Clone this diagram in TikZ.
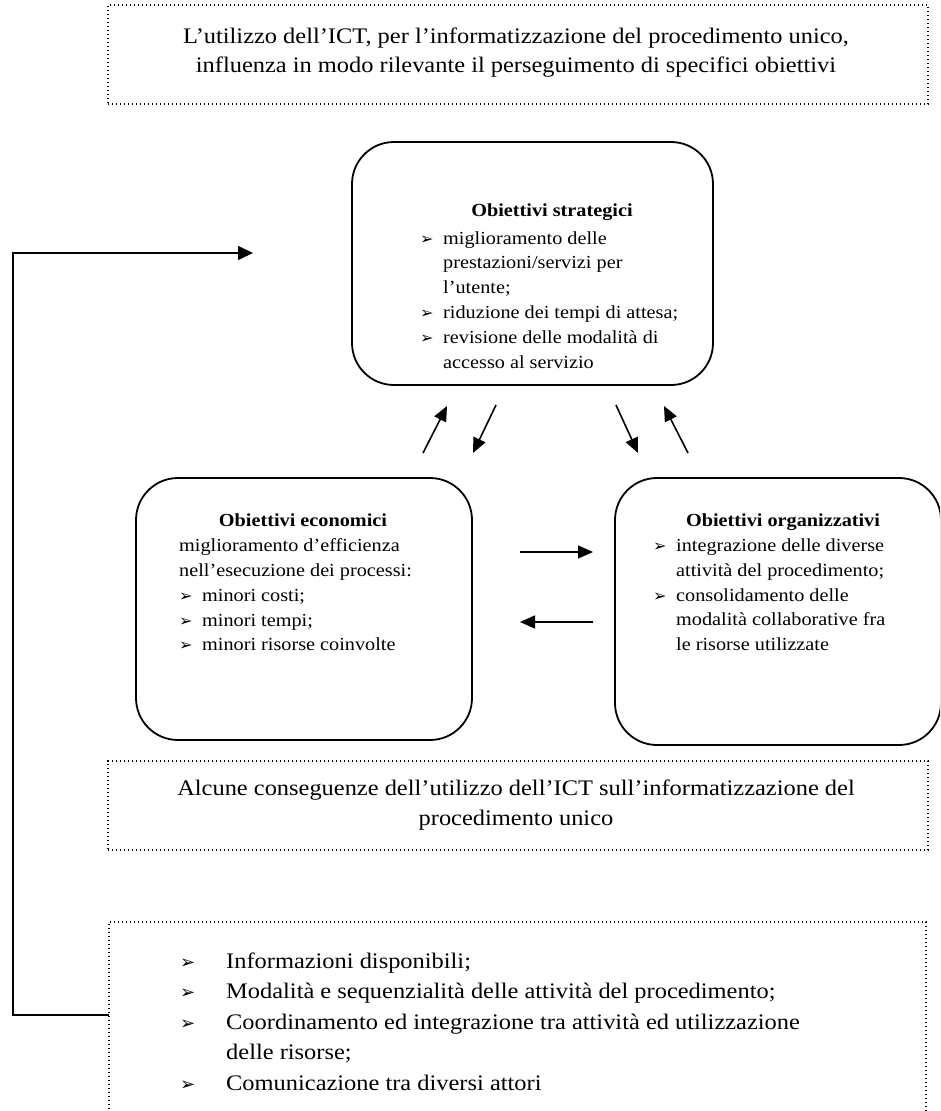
\documentclass[tikz,border=0pt]{standalone}
\usepackage{fontspec}
\setmainfont[FakeStretch=1.1]{Liberation Serif}
\newfontfamily\symfont{DejaVu Sans}
\usetikzlibrary{arrows.meta}

% arrowhead bullets and continuation indent for the lists
\newcommand{\sbul}{\makebox[23pt][l]{\symfont\fontsize{16}{16}\selectfont ➢}}
\newcommand{\sind}{\hspace*{23pt}}
\newcommand{\bbul}{\makebox[46pt][l]{\symfont\fontsize{18}{18}\selectfont ➢}}
\newcommand{\bind}{\hspace*{46pt}}

\begin{document}
\begin{tikzpicture}[x=1pt,y=-1pt,
  dotbox/.style={draw, line width=1.4pt, dash pattern=on 1.4pt off 2.6pt, inner sep=0pt},
  goalbox/.style={draw, line width=1.8pt, rounded corners=42pt, inner sep=0pt},
  bigtxt/.style={font=\fontsize{22.2}{29.5}\selectfont, align=center, inner sep=0pt},
  biglist/.style={font=\fontsize{22.2}{30.5}\selectfont, align=left, inner sep=0pt, anchor=north west},
  smalllist/.style={font=\fontsize{18.4}{24.8}\selectfont, align=left, inner sep=0pt, anchor=north west},
  goaltitle/.style={font=\fontsize{18.4}{24.8}\selectfont\bfseries, inner sep=0pt, anchor=base},
  arr/.style={line width=1.6pt, -{Triangle[length=15pt,width=13pt]}},
  loop/.style={line width=1.5pt, -{Triangle[length=15pt,width=14pt]}}]

\useasboundingbox (0,0) rectangle (940,1111);
\clip (0,0) rectangle (940,1111);

% heading box
\node[dotbox, minimum width=820pt, minimum height=99pt] (top) at (518,54.5) {};
\node[bigtxt] (toptxt) at (516,52.5) {L'utilizzo dell'ICT, per l'informatizzazione del procedimento unico,\\
  influenza in modo rilevante il perseguimento di specifici obiettivi};

% strategic goals
\node[goalbox, minimum width=361pt, minimum height=243pt] (strat) at (532.5,263.5) {};
\node[goaltitle] (strattitle) at (552,216) {Obiettivi strategici};
\node[smalllist] (stratlist) at (420,231.2) {\sbul miglioramento delle\\
  \sind prestazioni/servizi per\\
  \sind l'utente;\\
  \sbul riduzione dei tempi di attesa;\\
  \sbul revisione delle modalità di\\
  \sind accesso al servizio};

% economic goals
\node[goalbox, minimum width=336pt, minimum height=262pt] (econ) at (304,609) {};
\node[goaltitle] (econtitle) at (303,526.5) {Obiettivi economici};
\node[smalllist] (econlist) at (179,538.6) {miglioramento d'efficienza\\
  nell'esecuzione dei processi:\\
  \sbul minori costi;\\
  \sbul minori tempi;\\
  \sbul minori risorse coinvolte};

% organisational goals
\node[goalbox, minimum width=326pt, minimum height=267pt] (org) at (778,611.5) {};
\node[goaltitle] (orgtitle) at (783,526.5) {Obiettivi organizzativi};
\node[smalllist] (orglist) at (653,538.6) {\sbul integrazione delle diverse\\
  \sind attività del procedimento;\\
  \sbul consolidamento delle\\
  \sind modalità collaborative fra\\
  \sind le risorse utilizzate};

% arrows between the goal boxes
\coordinate (a1s) at (423,453); \coordinate (a1e) at (447,406);
\coordinate (a2s) at (496,405); \coordinate (a2e) at (473,453);
\coordinate (a3s) at (616,405); \coordinate (a3e) at (638,453);
\coordinate (a4s) at (688,453); \coordinate (a4e) at (664,406);
\coordinate (h1s) at (520,552); \coordinate (h1e) at (593,552);
\coordinate (h2s) at (593,622); \coordinate (h2e) at (520,622);
\draw[arr] (a1s) -- (a1e);
\draw[arr] (a2s) -- (a2e);
\draw[arr] (a3s) -- (a3e);
\draw[arr] (a4s) -- (a4e);
\draw[arr] (h1s) -- (h1e);
\draw[arr] (h2s) -- (h2e);

% consequences box
\node[dotbox, minimum width=820pt, minimum height=89pt] (mid) at (518,805.5) {};
\node[bigtxt] (midtxt) at (516,805) {Alcune conseguenze dell'utilizzo dell'ICT sull'informatizzazione del\\
  procedimento unico};

% list of consequences (box runs past the lower edge)
\node[dotbox, minimum width=817pt, minimum height=220pt] (bot) at (517.5,1032) {};
\node[biglist] (botlist) at (180,952.5) {\bbul Informazioni disponibili;\\
  \bbul Modalità e sequenzialità delle attività del procedimento;\\
  \bbul Coordinamento ed integrazione tra attività ed utilizzazione\\
  \bind delle risorse;\\
  \bbul Comunicazione tra diversi attori};

% feedback line back to the strategic goals
\coordinate (fbstart) at (109,1015);
\coordinate (fbend) at (253,253);
\draw[loop] (fbstart) -- ++(-96,0) |- (fbend);
\end{tikzpicture}
\end{document}
